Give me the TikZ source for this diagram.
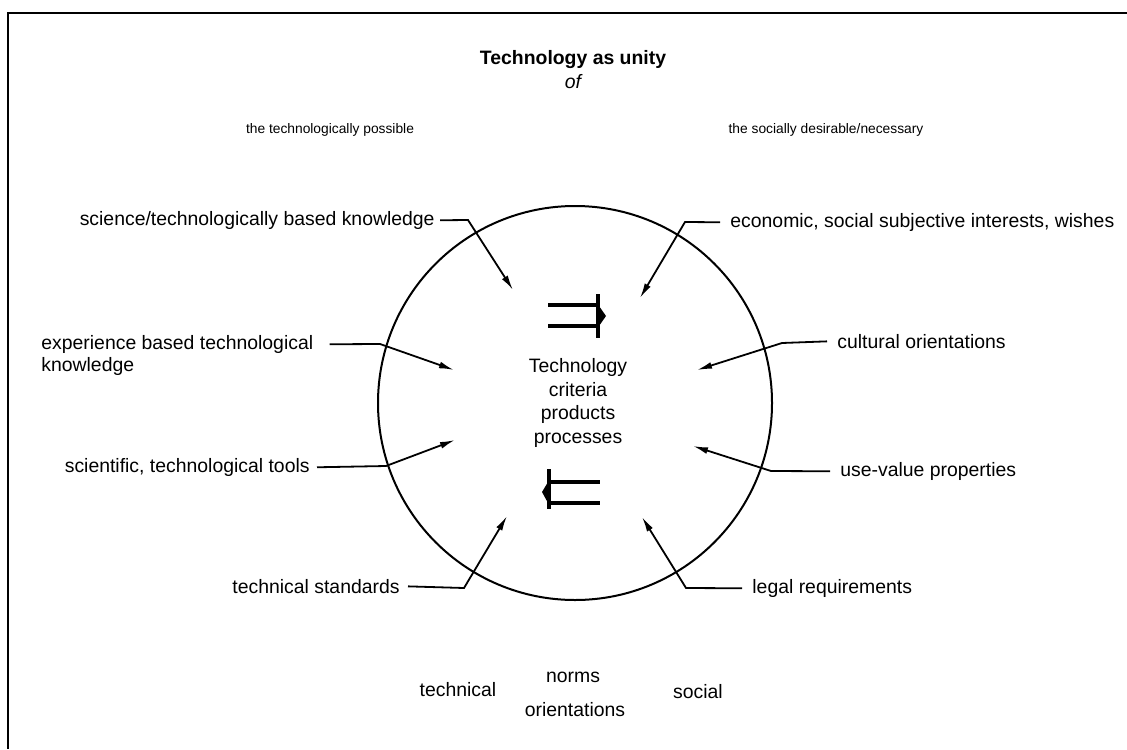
\documentclass[tikz,border=0pt]{standalone}
\usepackage{fontspec}
\setmainfont{Liberation Sans}
\usetikzlibrary{arrows.meta}
\begin{document}
\begin{tikzpicture}[x=0.5pt,y=-0.5pt,
  lbl/.style={font=\fontsize{9.7}{11.85}\selectfont, inner sep=0pt},
  toplbl/.style={font=\fontsize{6.9}{8.5}\selectfont, inner sep=0pt},
  conn/.style={line width=0.9pt, -{Latex[length=7.5pt,width=3.4pt]}},
  bar/.style={line width=1.6pt},
]
\useasboundingbox (0,0) rectangle (1127,749);
\draw[line width=1pt] (1127,13) -- (8,13) -- (8,749);

% circle
\node[draw, circle, line width=1pt, minimum size=197pt, inner sep=0pt] (C) at (575,403) {};

% title
\node[lbl, font=\fontsize{9.7}{11}\selectfont\bfseries] (title) at (573,60) {Technology as unity};
\node[lbl, font=\fontsize{9.7}{11}\selectfont\itshape] (of) at (573,82) {of};
\node[toplbl] (tp) at (330,130) {the technologically possible};
\node[toplbl] (sd) at (826,130) {the socially desirable/necessary};

% center
\node[lbl, align=center] (center) at (578,403) {Technology\\criteria\\products\\processes};

% labels
\node[lbl, anchor=mid east] (sci) at (435,220) {science/technologically based knowledge};
\node[lbl, anchor=mid west] (econ) at (730,222) {economic, social subjective interests, wishes};
\node[lbl, anchor=mid west] (exp1) at (41,344) {experience based technological};
\node[lbl, anchor=mid west] (exp2) at (41,366) {knowledge};
\node[lbl, anchor=mid west] (cult) at (837,343) {cultural orientations};
\node[lbl, anchor=mid east] (tools) at (310,467) {scientific, technological tools};
\node[lbl, anchor=mid west] (use) at (840,471) {use-value properties};
\node[lbl, anchor=mid east] (std) at (400,588) {technical standards};
\node[lbl, anchor=mid west] (legal) at (752,588) {legal requirements};

% bottom
\node[lbl] (tech) at (458,690) {technical};
\node[lbl] (norms) at (573,677) {norms};
\node[lbl] (orient) at (575,710) {orientations};
\node[lbl] (social) at (698,692) {social};

% bend points and tips
\coordinate (k1) at (468,220); \coordinate (t1) at (513,290);
\coordinate (k2) at (685,222); \coordinate (t2) at (640,298);
\coordinate (k3) at (380,344); \coordinate (t3) at (454,370);
\coordinate (k4) at (782,343); \coordinate (t4) at (697,370);
\coordinate (k5) at (386,466); \coordinate (t5) at (455,440);
\coordinate (k6) at (771,471); \coordinate (t6) at (693,446);
\coordinate (k7) at (464,588); \coordinate (t7) at (507,516);
\coordinate (k8) at (686,588); \coordinate (t8) at (642,517);

\draw[conn] ([xshift=2.5pt]sci.east) -- (k1) -- (t1);
\draw[conn] ([xshift=-5pt]econ.west) -- (k2) -- (t2);
\draw[conn] ([xshift=8pt]exp1.east) -- (k3) -- (t3);
\draw[conn] ([xshift=-5pt]cult.west) -- (k4) -- (t4);
\draw[conn] ([xshift=3.5pt]tools.east) -- (k5) -- (t5);
\draw[conn] ([xshift=-5pt]use.west) -- (k6) -- (t6);
\draw[conn] ([xshift=4pt]std.east) -- (k7) -- (t7);
\draw[conn] ([xshift=-5pt]legal.west) -- (k8) -- (t8);

% double arrows
\draw[bar] (548,305) -- (597,305) (548,326) -- (597,326);
\draw[line width=2pt] (598,294) -- (598,338);
\fill (599,306) -- (606,316) -- (599,326) -- cycle;
\draw[bar] (551,482) -- (600,482) (551,503) -- (600,503);
\draw[line width=2pt] (549,469) -- (549,509);
\fill (548,482) -- (542,492) -- (548,503) -- cycle;
\end{tikzpicture}
\end{document}
